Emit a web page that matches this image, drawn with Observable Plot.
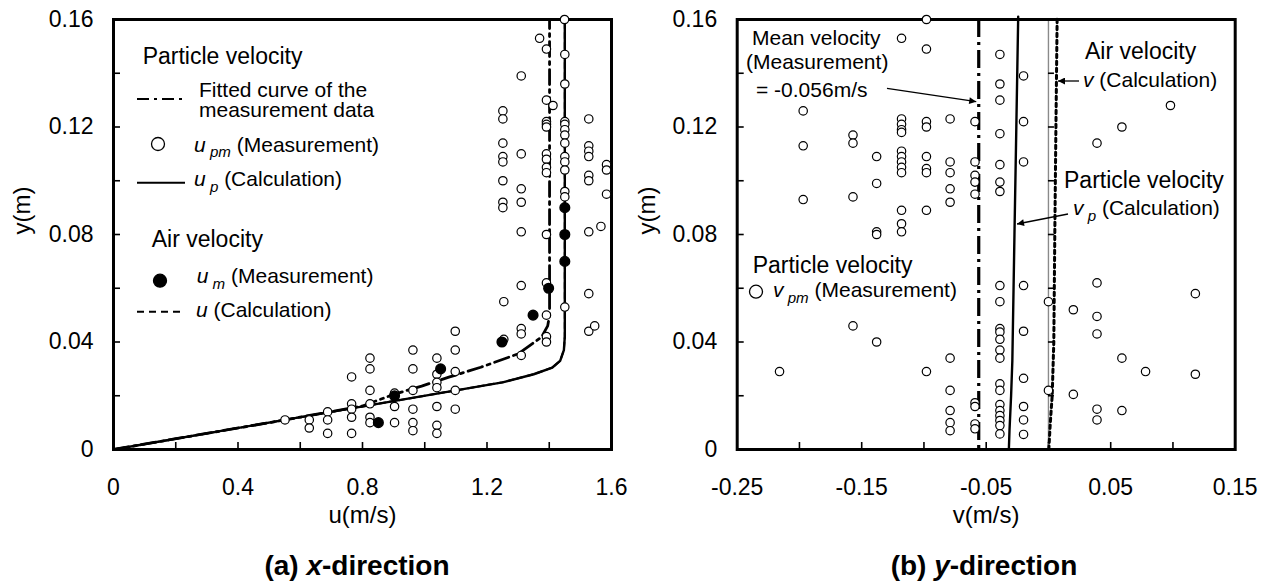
<!DOCTYPE html>
<html>
<head>
<meta charset="utf-8">
<script src="https://cdn.jsdelivr.net/npm/d3@7"></script>
<script src="https://cdn.jsdelivr.net/npm/@observablehq/plot@0.6"></script>
<style>
  body { margin: 0; background: #fff; font-family: "Liberation Sans", Arial, Helvetica, sans-serif; }
  #wrap { position: relative; width: 1268px; height: 587px; overflow: hidden; background: #fff; }
  #pa { position: absolute; left: 0; top: 0; }
  #pb { position: absolute; left: 634px; top: 0; }
  .cap { position: absolute; top: 552px; width: 300px; text-align: center; font-weight: bold; font-size: 28px; line-height: 28px; color: #000; }
</style>
</head>
<body>
<div id="wrap">
  <div id="pa"></div>
  <div id="pb"></div>
  <div class="cap" style="left:207px">(a) <i>x</i>-direction</div>
  <div class="cap" style="left:834px">(b) <i>y</i>-direction</div>
</div>
<script>
const FONT = '"Liberation Sans", Arial, Helvetica, sans-serif';

// ---------- Panel (a): x-direction ----------
const uTickValues = [0, 0.4, 0.8, 1.2, 1.6];
const uMinorTicks = [0.2, 0.4, 0.6, 0.8, 1.0, 1.2, 1.4];
const yTickValues = [0, 0.04, 0.08, 0.12, 0.16];
const yMinorTicks = [0.02, 0.04, 0.06, 0.08, 0.10, 0.12, 0.14];

// u_pm (Measurement): open circles [u, y]
const upmPoints = [
  [1.449,0.160],[1.369,0.153],[1.391,0.149],[1.450,0.147],[1.310,0.139],[1.450,0.136],
  [1.391,0.130],[1.412,0.128],[1.251,0.126],[1.251,0.123],[1.527,0.123],
  [1.391,0.122],[1.391,0.121],[1.391,0.120],
  [1.450,0.122],[1.450,0.121],[1.450,0.119],[1.450,0.117],[1.450,0.114],
  [1.251,0.114],[1.310,0.110],[1.251,0.109],[1.251,0.107],
  [1.391,0.110],[1.391,0.108],[1.391,0.105],[1.391,0.103],
  [1.450,0.109],[1.450,0.107],[1.450,0.104],
  [1.527,0.113],[1.527,0.111],[1.527,0.109],[1.527,0.102],[1.527,0.100],
  [1.584,0.106],[1.584,0.104],[1.251,0.100],[1.310,0.097],
  [1.251,0.092],[1.251,0.090],[1.310,0.092],[1.584,0.095],
  [1.450,0.096],[1.450,0.094],
  [1.310,0.081],[1.391,0.080],[1.527,0.081],[1.566,0.083],
  [1.310,0.061],[1.391,0.062],[1.527,0.058],[1.254,0.055],[1.450,0.053],[1.391,0.050],
  [1.527,0.044],[1.546,0.046],[1.310,0.045],[1.310,0.043],[1.254,0.041],
  [1.391,0.042],[1.391,0.040],[1.310,0.035],
  [1.098,0.044],[1.098,0.037],[1.098,0.029],[1.098,0.022],[1.098,0.015],
  [1.039,0.034],[1.039,0.028],[1.039,0.025],[1.039,0.023],[1.039,0.016],[1.039,0.009],[1.039,0.006],
  [0.962,0.037],[0.962,0.030],[0.962,0.022],[0.962,0.015],[0.962,0.010],[0.962,0.007],
  [0.903,0.021],[0.903,0.016],[0.903,0.010],
  [0.824,0.034],[0.824,0.030],[0.824,0.022],[0.824,0.017],[0.824,0.012],[0.824,0.010],
  [0.765,0.027],[0.765,0.017],[0.765,0.015],[0.765,0.012],[0.765,0.006],
  [0.688,0.014],[0.688,0.011],[0.688,0.006],
  [0.629,0.011],[0.629,0.008],
  [0.551,0.011]
];
// u_m (Measurement): filled circles [u, y]
const umPoints = [
  [1.450,0.090],[1.450,0.080],[1.450,0.070],[1.398,0.060],[1.348,0.050],
  [1.248,0.040],[1.051,0.030],[0.903,0.020],[0.851,0.010]
];
// u_p (Calculation): solid line [u, y]
const upCalc = [
  [0,0],[0.55,0.011],[1.10,0.022],[1.25,0.025],[1.35,0.028],[1.41,0.0305],
  [1.435,0.033],[1.447,0.037],[1.45,0.042],[1.45,0.160]
];
// u (Calculation): dashed line [u, y]
const uCalc = [
  [0,0],[0.55,0.011],[1.10,0.022],[1.25,0.025],[1.35,0.028],[1.41,0.0305],
  [1.435,0.033],[1.447,0.037],[1.45,0.042],[1.45,0.160]
];
// Fitted curve of the measurement data: dash-dot line [u, y]
const fitCurve = [
  [0,0],[0.55,0.011],[0.80,0.0162],[0.90,0.0205],[0.99,0.0236],[1.08,0.027],[1.18,0.0306],
  [1.30,0.0356],[1.375,0.0418],[1.395,0.046],[1.401,0.050],[1.401,0.160]
];

// ---------- Panel (b): y-direction ----------
const vTickValues = [-0.25, -0.15, -0.05, 0.05, 0.15];
const vMinorTicks = [-0.20, -0.15, -0.10, -0.05, 0, 0.05, 0.10];
const meanV = [-0.056];
const zeroV = [0];
const zeroLineTicks = [0.02, 0.04, 0.06, 0.08, 0.10, 0.12, 0.14];

// v_pm (Measurement): open circles [v, y]
const vpmPoints = [
  [-0.098,0.160],[-0.118,0.153],[-0.098,0.149],
  [-0.197,0.126],[-0.197,0.113],[-0.197,0.093],
  [-0.157,0.117],[-0.157,0.114],[-0.157,0.094],
  [-0.138,0.109],[-0.138,0.099],[-0.138,0.081],[-0.138,0.080],
  [-0.118,0.123],[-0.118,0.121],[-0.118,0.119],[-0.118,0.118],
  [-0.118,0.111],[-0.118,0.109],[-0.118,0.107],[-0.118,0.105],[-0.118,0.103],
  [-0.118,0.089],[-0.118,0.084],[-0.118,0.081],
  [-0.098,0.122],[-0.098,0.120],[-0.098,0.109],[-0.098,0.1045],[-0.098,0.103],[-0.098,0.089],
  [-0.079,0.123],[-0.079,0.107],[-0.079,0.103],[-0.079,0.097],[-0.079,0.092],
  [-0.059,0.122],[-0.059,0.107],[-0.059,0.102],[-0.059,0.0995],[-0.059,0.095],
  [-0.039,0.147],[-0.039,0.136],[-0.039,0.130],[-0.039,0.1175],[-0.039,0.106],[-0.039,0.0995],[-0.039,0.096],
  [-0.020,0.139],[-0.020,0.122],[-0.020,0.107],
  [0.039,0.114],[0.059,0.120],[0.098,0.128],
  [-0.216,0.029],[-0.157,0.046],[-0.138,0.040],[-0.098,0.029],
  [-0.079,0.034],[-0.079,0.022],[-0.079,0.0145],[-0.079,0.010],[-0.079,0.007],
  [-0.059,0.0174],[-0.059,0.016],[-0.059,0.0095],[-0.059,0.0077],
  [-0.039,0.061],[-0.039,0.055],[-0.039,0.045],[-0.039,0.0437],[-0.039,0.041],[-0.039,0.037],
  [-0.039,0.034],[-0.039,0.0244],[-0.039,0.022],[-0.039,0.0167],[-0.039,0.0145],[-0.039,0.0126],
  [-0.039,0.0108],[-0.039,0.0089],[-0.039,0.0058],
  [-0.020,0.061],[-0.020,0.044],[-0.020,0.0265],[-0.020,0.016],[-0.020,0.011],[-0.020,0.0056],
  [0.000,0.055],[0.000,0.022],
  [0.020,0.052],[0.020,0.0205],
  [0.039,0.062],[0.039,0.0495],[0.039,0.043],[0.039,0.015],[0.039,0.011],
  [0.059,0.034],[0.059,0.0145],
  [0.078,0.029],
  [0.118,0.058],[0.118,0.028]
];
// v_p (Calculation): solid line [v, y]
const vpCalc = [
  [-0.0318,0],[-0.0313,0.007],[-0.0300,0.020],[-0.0290,0.033],[-0.0273,0.080],[-0.0258,0.120],[-0.0243,0.161]
];
// v (Calculation): dotted line [v, y]
const vCalc = [
  [0.0003,0],[0.0015,0.010],[0.0030,0.020],[0.0043,0.040],[0.0051,0.080],[0.0060,0.120],[0.0070,0.161]
];

const fmt = d => String(d);
const X = d => d[0], Y = d => d[1];

const PLOT_H = 430, PLOT_W = 498;   // inner frame size in px (both panels)
const TICK_PX = 7;

// inward tick marks drawn as short rules; their length is converted from pixels to data units
function frameAxes(xDomain, yDomain, xTicks, xMinor) {
  const ty = TICK_PX * (yDomain[1] - yDomain[0]) / PLOT_H;
  const tx = TICK_PX * (xDomain[1] - xDomain[0]) / PLOT_W;
  return [
    Plot.axisX(xTicks, {tickSize: 0, tickPadding: 29, fontSize: 23, tickFormat: fmt, label: null}),
    Plot.axisY(yTickValues, {tickSize: 0, tickPadding: 20, fontSize: 23, tickFormat: fmt, label: null}),
    Plot.ruleX(xMinor, {y1: yDomain[0], y2: yDomain[0] + ty, stroke: "black", strokeWidth: 1.6}),
    Plot.ruleY(yMinorTicks, {x1: xDomain[0], x2: xDomain[0] + tx, stroke: "black", strokeWidth: 1.6})
  ];
}

// ---------- helpers for rich-text annotations ----------
function addText(svg, x, y, parts, size) {
  const t = d3.select(svg).append("text")
    .attr("x", x).attr("y", y).attr("text-anchor", "start")
    .attr("font-family", FONT).attr("font-size", size).attr("fill", "black");
  let shift = 0;
  parts.forEach(p => {
    const ts = t.append("tspan").text(p.t);
    if (p.i) ts.attr("font-style", "italic");
    const want = p.sub ? size * 0.28 : 0;
    if (want !== shift) { ts.attr("dy", want - shift); shift = want; }
    if (p.sub) ts.attr("font-size", size * 0.72);
  });
  return t;
}
function addMarker(svg, id) {
  d3.select(svg).append("defs").append("marker")
    .attr("id", id).attr("viewBox", "0 0 10 10").attr("refX", 10).attr("refY", 5)
    .attr("markerWidth", 9).attr("markerHeight", 7).attr("markerUnits", "userSpaceOnUse")
    .attr("orient", "auto")
    .append("path").attr("d", "M0,0L10,5L0,10z").attr("fill", "black");
}
function addArrow(svg, x1, y1, x2, y2, id) {
  d3.select(svg).append("line")
    .attr("x1", x1).attr("y1", y1).attr("x2", x2).attr("y2", y2)
    .attr("stroke", "black").attr("stroke-width", 1.3).attr("marker-end", `url(#${id})`);
}
function addSeg(svg, x1, x2, y, dash, w) {
  d3.select(svg).append("line")
    .attr("x1", x1).attr("x2", x2).attr("y1", y).attr("y2", y)
    .attr("stroke", "black").attr("stroke-width", w).attr("stroke-dasharray", dash);
}
function addCircle(svg, cx, cy, r, filled) {
  d3.select(svg).append("circle").attr("cx", cx).attr("cy", cy).attr("r", r)
    .attr("fill", filled ? "black" : "white").attr("stroke", "black").attr("stroke-width", 1.3);
}

// ---------- Panel (a) chart ----------
const uDomain = [0, 1.6], yDomain = [0, 0.16];
const chartA = Plot.plot({
  width: 634, height: 500,
  marginLeft: 113, marginRight: 23, marginTop: 19, marginBottom: 51,
  style: {fontFamily: FONT, fontSize: "23px", color: "black", background: "white", overflow: "visible"},
  x: {domain: uDomain},
  y: {domain: yDomain},
  marks: [
    ...frameAxes(uDomain, yDomain, uTickValues, uMinorTicks),
    Plot.line(uCalc, {x: X, y: Y, stroke: "black", strokeWidth: 2, strokeDasharray: "6,4"}),
    Plot.line(fitCurve, {x: X, y: Y, stroke: "black", strokeWidth: 2.8, strokeDasharray: "15,5,3,5"}),
    Plot.line(upCalc, {x: X, y: Y, stroke: "black", strokeWidth: 2.4}),
    Plot.frame({stroke: "black", strokeWidth: 3}),
    Plot.dot(upmPoints, {x: X, y: Y, r: 4.2, fill: "white", stroke: "black", strokeWidth: 1.2}),
    Plot.dot(umPoints, {x: X, y: Y, r: 4.8, fill: "black", stroke: "black"}),
    Plot.text(["u(m/s)"], {frameAnchor: "bottom", dy: 73, fontSize: 24, text: d => d}),
    Plot.text(["y(m)"], {frameAnchor: "left", dx: -91, rotate: -90, fontSize: 24, text: d => d})
  ]
});
document.getElementById("pa").appendChild(chartA);

// legend of panel (a)
addText(chartA, 142.7, 64, [{t: "Particle velocity"}], 23);
addSeg(chartA, 137, 185, 99, "12,5,3,5", 2.2);
addText(chartA, 199, 96.5, [{t: "Fitted curve of the"}], 21);
addText(chartA, 199, 117.3, [{t: "measurement data"}], 21);
addCircle(chartA, 158, 144, 6.5, false);
addText(chartA, 194, 151.5, [{t: "u", i: 1}, {t: " pm", i: 1, sub: 1}, {t: " (Measurement)"}], 21);
addSeg(chartA, 137, 185, 182.7, null, 2);
addText(chartA, 194, 186, [{t: "u", i: 1}, {t: " p", i: 1, sub: 1}, {t: " (Calculation)"}], 21);
addText(chartA, 151.7, 246.7, [{t: "Air velocity"}], 23);
addCircle(chartA, 160, 280.7, 6.5, true);
addText(chartA, 196.7, 283.3, [{t: "u", i: 1}, {t: " m", i: 1, sub: 1}, {t: " (Measurement)"}], 21);
addSeg(chartA, 137, 185, 311.7, "7,5", 2);
addText(chartA, 196, 317.3, [{t: "u", i: 1}, {t: " (Calculation)"}], 21);

// ---------- Panel (b) chart ----------
const vDomain = [-0.25, 0.15];
const tZero = 6 * (vDomain[1] - vDomain[0]) / PLOT_W;
const chartB = Plot.plot({
  width: 634, height: 500,
  marginLeft: 102.7, marginRight: 33.3, marginTop: 19, marginBottom: 51,
  style: {fontFamily: FONT, fontSize: "23px", color: "black", background: "white", overflow: "visible"},
  x: {domain: vDomain},
  y: {domain: yDomain},
  marks: [
    ...frameAxes(vDomain, yDomain, vTickValues, vMinorTicks),
    Plot.ruleX(zeroV, {stroke: "#8a8a8a", strokeWidth: 1.4}),
    Plot.ruleY(zeroLineTicks, {x1: zeroV[0], x2: zeroV[0] + tZero, stroke: "black", strokeWidth: 1.6}),
    Plot.ruleX(meanV, {stroke: "black", strokeWidth: 3.2, strokeDasharray: "18,5,3,5"}),
    Plot.line(vCalc, {x: X, y: Y, stroke: "black", strokeWidth: 3, strokeDasharray: "3.5,3.5"}),
    Plot.line(vpCalc, {x: X, y: Y, stroke: "black", strokeWidth: 2.4}),
    Plot.frame({stroke: "black", strokeWidth: 3}),
    Plot.dot(vpmPoints, {x: X, y: Y, r: 4.2, fill: "white", stroke: "black", strokeWidth: 1.2}),
    Plot.text(["v(m/s)"], {frameAnchor: "bottom", dy: 73, fontSize: 24, text: d => d}),
    Plot.text(["y(m)"], {frameAnchor: "left", dx: -90, rotate: -90, fontSize: 24, text: d => d})
  ]
});
document.getElementById("pb").appendChild(chartB);

// annotations of panel (b)
{
  const xs = chartB.scale("x");
  addMarker(chartB, "ahB");
  const xMean = xs.apply(meanV[0]);
  addText(chartB, 118, 45, [{t: "Mean velocity"}], 21);
  addText(chartB, 112, 68.5, [{t: "(Measurement)"}], 21);
  addText(chartB, 122, 96.5, [{t: "= -0.056m/s"}], 21);
  addArrow(chartB, 253, 88.3, xMean - 2, 101.7, "ahB");
  addText(chartB, 451, 59.3, [{t: "Air velocity"}], 23);
  addText(chartB, 449, 87.3, [{t: "v", i: 1}, {t: " (Calculation)"}], 21);
  addArrow(chartB, 445, 81, 424, 81, "ahB");
  addText(chartB, 430, 188.3, [{t: "Particle velocity"}], 23);
  addText(chartB, 439, 215, [{t: "v", i: 1}, {t: " p", i: 1, sub: 1}, {t: " (Calculation)"}], 21);
  addArrow(chartB, 434, 214, 383, 224, "ahB");
  addText(chartB, 118.7, 272.7, [{t: "Particle velocity"}], 23);
  addCircle(chartB, 122, 291.7, 6.5, false);
  addText(chartB, 139, 297, [{t: "v", i: 1}, {t: " pm", i: 1, sub: 1}, {t: " (Measurement)"}], 21);
}
</script>
</body>
</html>
